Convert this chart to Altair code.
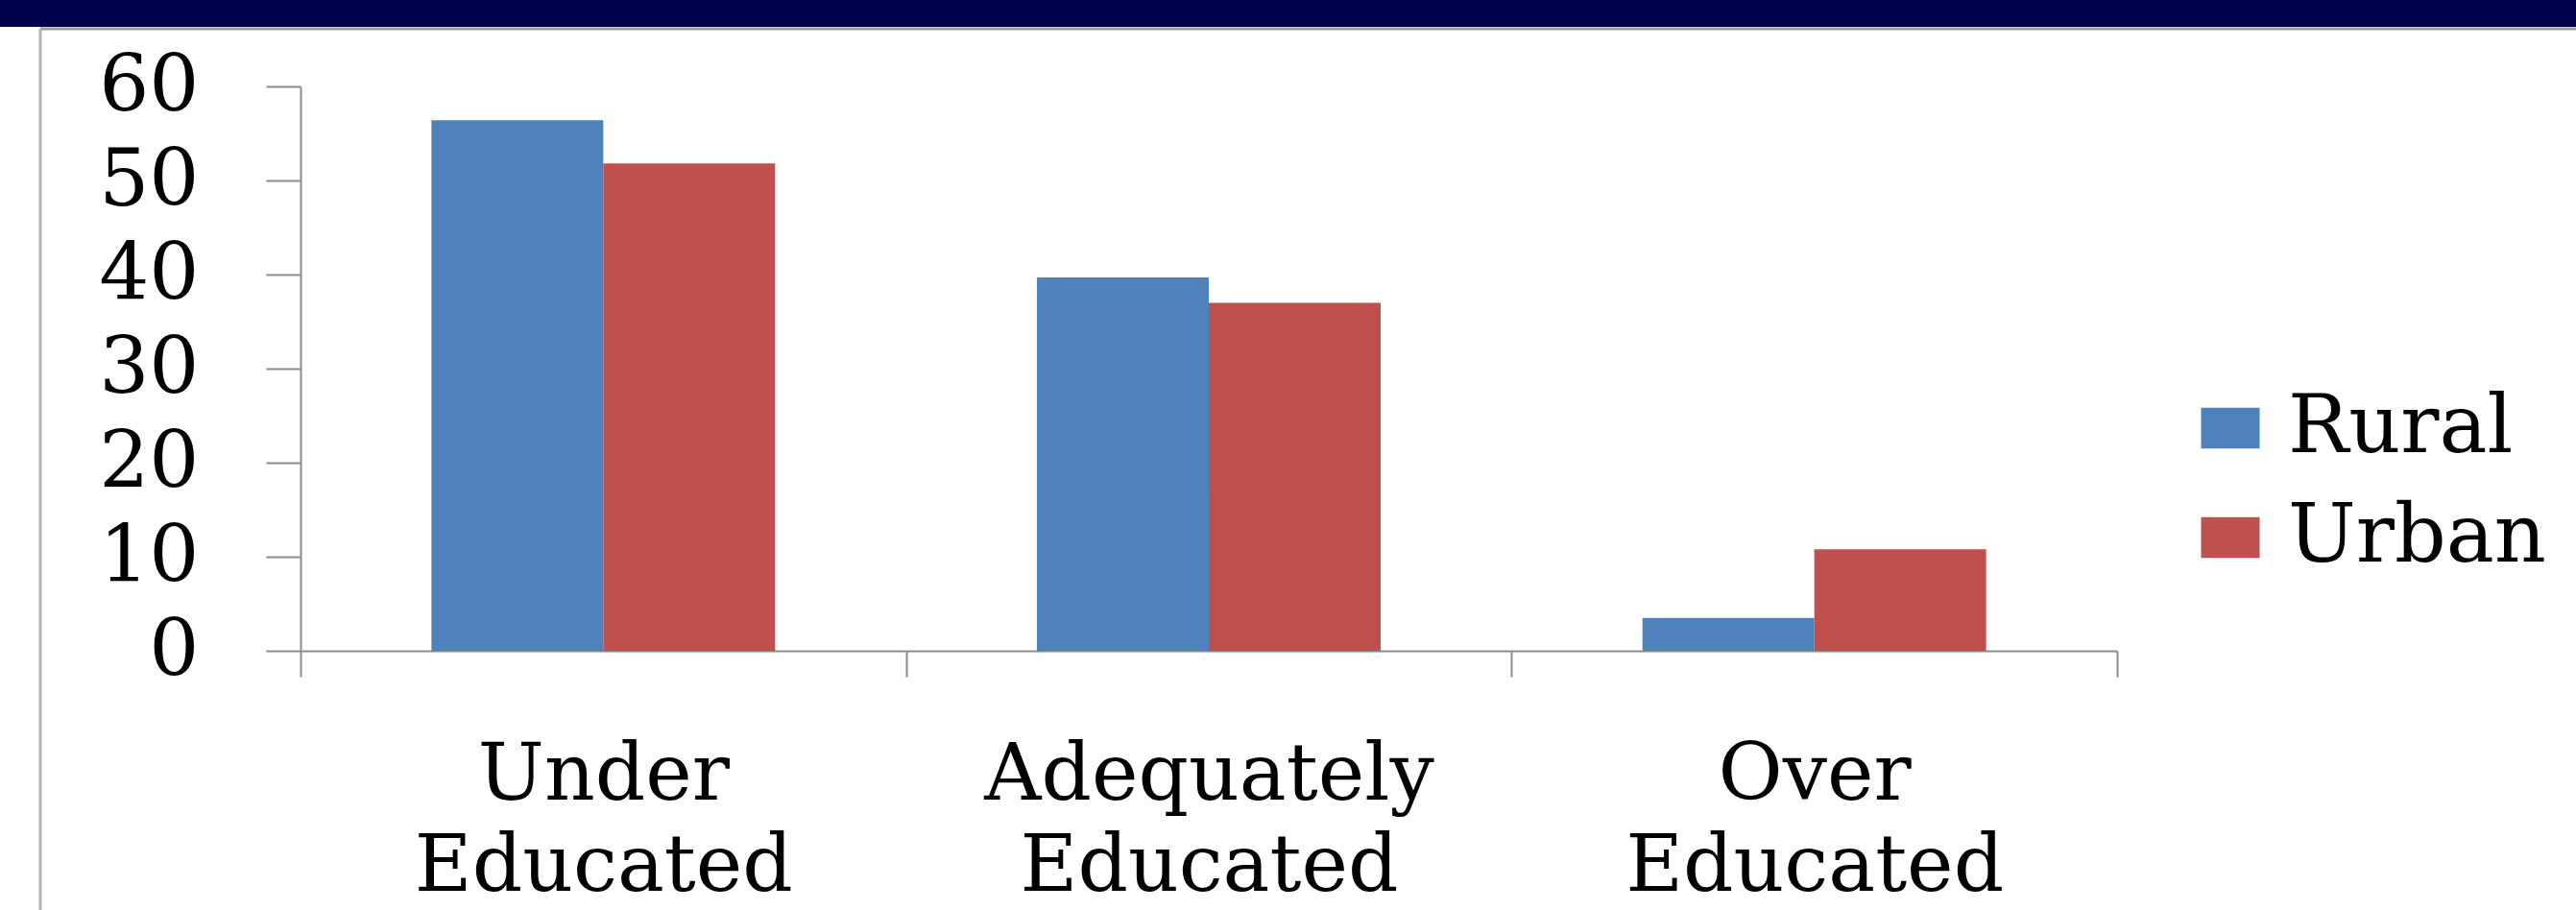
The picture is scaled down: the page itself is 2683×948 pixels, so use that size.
import altair as alt
import pandas as pd

# Education-job match by area (percent)
categories = ["Under Educated", "Adequately Educated", "Over Educated"]
areas = ["Rural", "Urban"]
rural = [56.4, 39.7, 3.5]
urban = [51.8, 37.0, 10.8]
y_ticks = [0, 10, 20, 30, 40, 50, 60]
colors = ["#4f81bd", "#c0504d"]

rows = []
for cat, r, u in zip(categories, rural, urban):
    rows.append({"category": cat, "area": "Rural", "value": r})
    rows.append({"category": cat, "area": "Urban", "value": u})
df = pd.DataFrame(rows)

W, H = 1892, 588
PAD_L, PAD_T, PAD_R, PAD_B = 313, 90, 478, 270
FONT = "DejaVu Serif"
AXIS_GRAY = "#8c8c8c"

bars = alt.Chart(df).mark_bar().encode(
    x=alt.X(
        "category:N",
        sort=categories,
        scale=alt.Scale(paddingInner=0, paddingOuter=0),
        axis=alt.Axis(
            title=None,
            labelAngle=0,
            tickBand="extent",
            tickSize=27,
            tickWidth=2,
            tickColor=AXIS_GRAY,
            domainColor=AXIS_GRAY,
            domainWidth=2,
            labelExpr="split(datum.label, ' ')",
            labelLineHeight=95,
            labelBaseline="top",
            labelPadding=62,
            labelLimit=0,
            labelFont=FONT,
            labelFontSize=82,
            labelColor="#000000",
        ),
    ),
    xOffset=alt.XOffset(
        "area:N",
        sort=areas,
        scale=alt.Scale(paddingInner=0, paddingOuter=0.762),
    ),
    y=alt.Y(
        "value:Q",
        scale=alt.Scale(domain=[0, 60], nice=False, zero=True),
        axis=alt.Axis(
            title=None,
            values=y_ticks,
            grid=False,
            tickSize=36,
            tickWidth=2,
            tickColor=AXIS_GRAY,
            domainColor=AXIS_GRAY,
            domainWidth=2,
            labelPadding=70,
            labelLimit=0,
            labelFont=FONT,
            labelFontSize=82,
            labelColor="#000000",
        ),
    ),
    color=alt.Color(
        "area:N",
        sort=areas,
        scale=alt.Scale(domain=areas, range=colors),
        legend=alt.Legend(
            title=None,
            orient="none",
            legendX=1968,
            legendY=314,
            padding=0,
            symbolType="M-1,-0.7L1,-0.7L1,0.7L-1,0.7Z",
            symbolSize=3721,
            symbolStrokeWidth=0,
            labelFont=FONT,
            labelFontSize=84,
            labelLimit=0,
            labelColor="#000000",
            labelOffset=18,
            rowPadding=30,
        ),
    ),
)

one = pd.DataFrame({"k": [0]})

# dark header band across the top
banner = alt.Chart(one).mark_rect(color="#00004d").encode(
    x=alt.value(-PAD_L), x2=alt.value(W + PAD_R),
    y=alt.value(-PAD_T), y2=alt.value(-PAD_T + 28),
)
# frame lines of the white panel
frame_top = alt.Chart(one).mark_rule(color="#9a9aa8", strokeWidth=3).encode(
    x=alt.value(42 - PAD_L), x2=alt.value(W + PAD_R),
    y=alt.value(30 - PAD_T),
)
frame_left = alt.Chart(one).mark_rule(color="#b4b4b4", strokeWidth=3).encode(
    x=alt.value(42 - PAD_L),
    y=alt.value(30 - PAD_T), y2=alt.value(H + PAD_B),
)

chart = alt.layer(banner, frame_top, frame_left, bars).properties(
    width=W,
    height=H,
    padding={"left": PAD_L, "top": PAD_T, "right": PAD_R, "bottom": PAD_B},
    autosize=alt.AutoSizeParams(type="none"),
    background="#ffffff",
).configure_view(stroke=None)

chart.save("out.html", embed_options={"renderer": "svg", "actions": False})
